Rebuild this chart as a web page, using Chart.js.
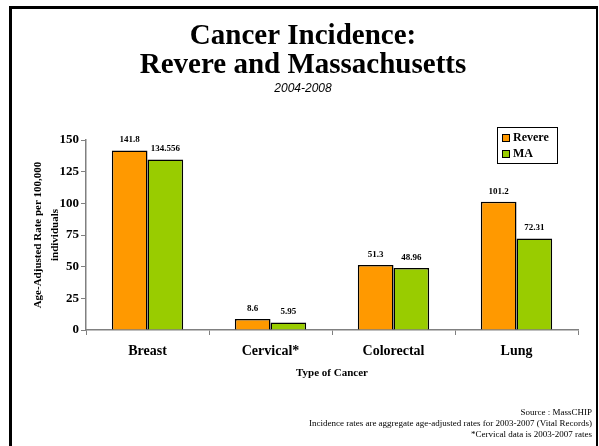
<!DOCTYPE html>
<html>
<head>
<meta charset="utf-8">
<script src="https://cdn.jsdelivr.net/npm/chart.js@4.4.0/dist/chart.umd.min.js"></script>
<style>
  html, body { margin: 0; padding: 0; background: #fff; }
  #wrap { position: relative; width: 599px; height: 446px; }
</style>
</head>
<body>
<div id="wrap"><canvas id="chart" width="599" height="446"></canvas></div>
<script>
// data
const categories = ['Breast', 'Cervical*', 'Colorectal', 'Lung'];
const revere = [141.8, 8.6, 51.3, 101.2];
const ma = [134.556, 5.95, 48.96, 72.31];
const revereLabels = ['141.8', '8.6', '51.3', '101.2'];
const maLabels = ['134.556', '5.95', '48.96', '72.31'];
const yTicks = [0, 25, 50, 75, 100, 125, 150];
const titleLines = ['Cancer Incidence:', 'Revere and Massachusetts'];
const subtitle = '2004-2008';
const notes = [
  'Source : MassCHIP',
  'Incidence rates are aggregate age-adjusted rates for 2003-2007 (Vital Records)',
  '*Cervical data is 2003-2007 rates'
];

const SERIF = '"Liberation Serif", "Times New Roman", serif';

// frame, titles, legend, value labels, footnotes
const decor = {
  id: 'decor',
  beforeDraw(chart) {
    const ctx = chart.ctx;
    ctx.save();
    ctx.fillStyle = '#fff';
    ctx.fillRect(0, 0, chart.width, chart.height);
    ctx.fillStyle = '#000';
    ctx.fillRect(9, 6, 3, 440);
    ctx.fillRect(9, 6, 589, 3);
    ctx.fillRect(596, 6, 2, 440);
    ctx.restore();
  },
  afterDraw(chart) {
    const ctx = chart.ctx;
    ctx.save();
    ctx.fillStyle = '#000';
    ctx.textAlign = 'center';
    ctx.textBaseline = 'middle';
    ctx.font = 'bold 29px ' + SERIF;
    ctx.fillText(titleLines[0], 303, 37);
    ctx.fillText(titleLines[1], 303, 66);
    ctx.font = 'italic 12px "Liberation Sans", Arial, sans-serif';
    ctx.fillText(subtitle, 303, 89);

    // value labels above bars
    ctx.font = 'bold 9px ' + SERIF;
    ctx.textBaseline = 'bottom';
    const lbls = [revereLabels, maLabels];
    chart.data.datasets.forEach((ds, di) => {
      chart.getDatasetMeta(di).data.forEach((bar, i) => {
        ctx.fillText(lbls[di][i], bar.x, bar.y - 6);
      });
    });

    // legend box
    const lx = 497, ly = 127, lw = 60, lh = 36;
    ctx.fillStyle = '#fff';
    ctx.fillRect(lx, ly, lw, lh);
    ctx.strokeStyle = '#000';
    ctx.lineWidth = 1;
    ctx.strokeRect(lx + 0.5, ly + 0.5, lw, lh);
    ctx.font = 'bold 12px ' + SERIF;
    ctx.textAlign = 'left';
    ctx.textBaseline = 'middle';
    chart.data.datasets.forEach((ds, di) => {
      const y = ly + 11 + di * 16;
      ctx.fillStyle = ds.backgroundColor;
      ctx.fillRect(lx + 5, y - 4, 8, 8);
      ctx.strokeStyle = '#000';
      ctx.strokeRect(lx + 5.5, y - 3.5, 7, 7);
      ctx.fillStyle = '#000';
      ctx.fillText(ds.label, lx + 16, y);
    });

    // footnotes
    ctx.font = '9px ' + SERIF;
    ctx.textAlign = 'right';
    notes.forEach((t, i) => ctx.fillText(t, 592, 413 + i * 11));
    ctx.restore();
  }
};

new Chart(document.getElementById('chart'), {
  type: 'bar',
  data: {
    labels: categories,
    datasets: [
      { label: 'Revere', data: revere, backgroundColor: '#FF9900', borderColor: '#000', borderWidth: 1.5 },
      { label: 'MA', data: ma, backgroundColor: '#99CC00', borderColor: '#000', borderWidth: 1.5 }
    ]
  },
  options: {
    responsive: false,
    animation: false,
    layout: { padding: { left: 0, right: 21, top: 140, bottom: 56 } },
    plugins: {
      legend: { display: false },
      title: { display: false },
      tooltip: { enabled: false }
    },
    datasets: { bar: { categoryPercentage: 0.58, barPercentage: 1 } },
    scales: {
      x: {
        grid: { display: true, drawOnChartArea: false, drawTicks: true, tickLength: 5, color: '#808080', offset: true },
        border: { display: true, color: '#808080', width: 1.5 },
        ticks: { color: '#000', font: { family: SERIF, size: 14, weight: 'bold' }, padding: 8 },
        title: { display: true, text: 'Type of Cancer', color: '#000', font: { family: SERIF, size: 11, weight: 'bold' }, padding: { top: 0, bottom: 10 } },
        afterFit(scale) { scale.height = 60; }
      },
      y: {
        min: 0,
        max: 150,
        afterBuildTicks(scale) { scale.ticks = yTicks.map(v => ({ value: v })); },
        grid: { display: true, drawOnChartArea: false, drawTicks: true, tickLength: 5, color: '#808080' },
        border: { display: true, color: '#808080', width: 1.5 },
        ticks: { color: '#000', font: { family: SERIF, size: 13, weight: 'bold' }, padding: 2 },
        title: {
          display: true,
          text: ['Age-Adjusted Rate per 100,000', 'individuals'],
          color: '#000',
          font: { family: SERIF, size: 11, weight: 'bold', lineHeight: 1.5 },
          padding: { top: 30, bottom: 0 }
        },
        afterFit(scale) { scale.width = 86; }
      }
    }
  },
  plugins: [decor]
});
</script>
</body>
</html>
